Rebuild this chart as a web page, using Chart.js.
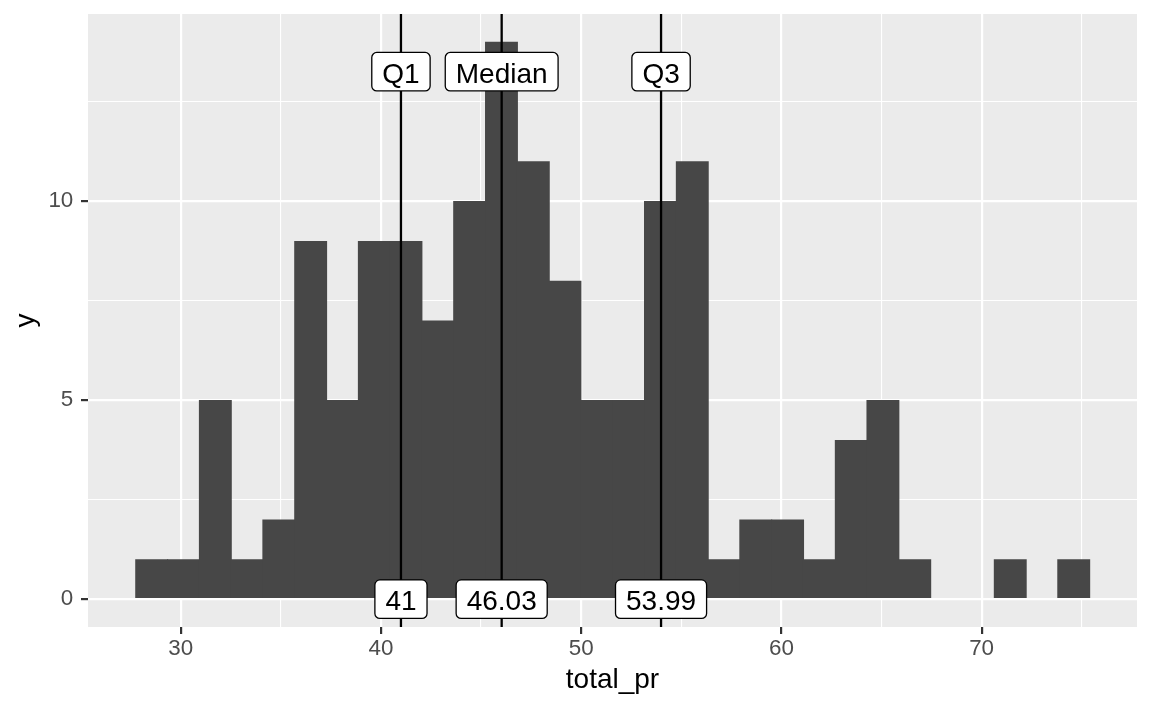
<!DOCTYPE html>
<html><head><meta charset="utf-8">
<script src="https://cdn.jsdelivr.net/npm/chart.js@4"></script>
<style>html,body{margin:0;padding:0;background:#fff}#wrap{width:1152px;height:711px;position:relative}</style>
</head><body><div id="wrap"><canvas id="c"></canvas></div>
<script>
// ---- data ----
const binCenters = [28.55,30.14,31.73,33.31,34.90,36.49,38.08,39.67,41.25,42.84,
                    44.43,46.02,47.61,49.19,50.78,52.37,53.96,55.55,57.13,58.72,
                    60.31,61.90,63.49,65.07,66.66,68.25,69.84,71.43,73.01,74.60];
const binCounts  = [1,1,5,1,2,9,5,9,9,7,
                    10,14,11,8,5,5,10,11,1,2,
                    2,1,4,5,1,0,0,1,0,1];
const xMajorTicks = [30,40,50,60,70];
const xMinorTicks = [35,45,55,65,75];
const yMajorTicks = [0,5,10];
const yMinorTicks = [2.5,7.5,12.5];
const refValues = [41, 46.03, 53.99];
const refNames = ['Q1','Median','Q3'];
const refValueLabels = ['41','46.03','53.99'];
const nameLabelY = 13.25;
const valueLabelY = 0;
const xRange = [25.37, 77.76];
const yRange = [-0.7, 14.7];
const xTitle = 'total_pr';
const yTitle = 'y';

const FONT = '"Liberation Sans", Arial, Helvetica, sans-serif';

const panelBg = {
  id: 'panelBg',
  beforeDraw(chart) {
    const {ctx, chartArea: a} = chart;
    ctx.save();
    ctx.fillStyle = '#EBEBEB';
    ctx.fillRect(a.left, a.top, a.right - a.left, a.bottom - a.top);
    ctx.restore();
  }
};

const refPlugin = {
  id: 'refs',
  afterDatasetsDraw(chart) {
    const {ctx, chartArea: a, scales: {x, y}} = chart;
    ctx.save();
    ctx.beginPath();
    ctx.rect(a.left, a.top, a.right - a.left, a.bottom - a.top);
    ctx.clip();
    ctx.strokeStyle = '#000';
    ctx.lineWidth = 2.3;
    refValues.forEach(v => {
      const px = x.getPixelForValue(v);
      ctx.beginPath();
      ctx.moveTo(px, a.top);
      ctx.lineTo(px, a.bottom);
      ctx.stroke();
    });
    ctx.font = '28px ' + FONT;
    const drawLabel = (text, px, py) => {
      const w = ctx.measureText(text).width + 21;
      const h = 38.5;
      const lx = px - w / 2, ly = py - h / 2;
      ctx.beginPath();
      ctx.roundRect(lx, ly, w, h, 5);
      ctx.fillStyle = '#fff';
      ctx.fill();
      ctx.lineWidth = 1.3;
      ctx.strokeStyle = '#000';
      ctx.stroke();
      ctx.fillStyle = '#000';
      ctx.textAlign = 'center';
      ctx.textBaseline = 'alphabetic';
      ctx.fillText(text, px, py + 11);
    };
    refValues.forEach((v, i) => {
      const px = x.getPixelForValue(v);
      drawLabel(refNames[i], px, y.getPixelForValue(nameLabelY));
      drawLabel(refValueLabels[i], px, y.getPixelForValue(valueLabelY));
    });
    ctx.restore();
  }
};

const isMajor = (list, v) => list.some(t => Math.abs(t - v) < 1e-9);

new Chart(document.getElementById('c'), {
  type: 'bar',
  data: {
    datasets: [{
      data: binCenters.map((c, i) => ({x: c, y: binCounts[i]})),
      backgroundColor: '#474747',
      borderWidth: 0,
      inflateAmount: 0,
      barPercentage: 1.04,
      categoryPercentage: 1,
      grouped: false
    }]
  },
  plugins: [panelBg, refPlugin],
  options: {
    responsive: true,
    maintainAspectRatio: false,
    animation: false,
    events: [],
    layout: {padding: {top: 14, right: 15, left: 0, bottom: 0}},
    plugins: {legend: {display: false}, tooltip: {enabled: false}, title: {display: false}},
    scales: {
      x: {
        type: 'linear',
        min: xRange[0], max: xRange[1],
        offset: false,
        afterBuildTicks(s) {
          s.ticks = [...xMajorTicks, ...xMinorTicks].sort((a, b) => a - b).map(v => ({value: v}));
        },
        afterFit(s) { s.height = 84; s.paddingLeft = 0; s.paddingRight = 0; },
        border: {display: false},
        grid: {
          offset: false,
          color: '#FFFFFF',
          lineWidth: c => isMajor(xMajorTicks, c.tick.value) ? 2.2 : 1.1,
          tickColor: c => isMajor(xMajorTicks, c.tick.value) ? '#333333' : 'rgba(0,0,0,0)',
          tickWidth: 2.2,
          tickLength: 7,
          drawTicks: true
        },
        ticks: {
          autoSkip: false,
          maxRotation: 0,
          padding: 1.6,
          color: '#4D4D4D',
          font: {family: FONT, size: 22.4},
          callback: v => isMajor(xMajorTicks, v) ? String(v) : ''
        },
        title: {
          display: true, text: xTitle, color: '#000',
          font: {family: FONT, size: 28},
          padding: {top: 0, bottom: 14}
        }
      },
      y: {
        type: 'linear',
        min: yRange[0], max: yRange[1],
        afterBuildTicks(s) {
          s.ticks = [...yMajorTicks, ...yMinorTicks].sort((a, b) => a - b).map(v => ({value: v}));
        },
        afterFit(s) { s.width = 88; s.paddingTop = 0; s.paddingBottom = 0; },
        border: {display: false},
        grid: {
          color: '#FFFFFF',
          lineWidth: c => isMajor(yMajorTicks, c.tick.value) ? 2.2 : 1.1,
          tickColor: c => isMajor(yMajorTicks, c.tick.value) ? '#333333' : 'rgba(0,0,0,0)',
          tickWidth: 2.2,
          tickLength: 7,
          drawTicks: true
        },
        ticks: {
          autoSkip: false,
          padding: 7.7,
          color: '#4D4D4D',
          font: {family: FONT, size: 22.4},
          callback: v => isMajor(yMajorTicks, v) ? String(v) : ''
        },
        title: {
          display: true, text: yTitle, color: '#000',
          font: {family: FONT, size: 28},
          padding: {top: 9, bottom: 0}
        }
      }
    }
  }
});
</script>
</body></html>
